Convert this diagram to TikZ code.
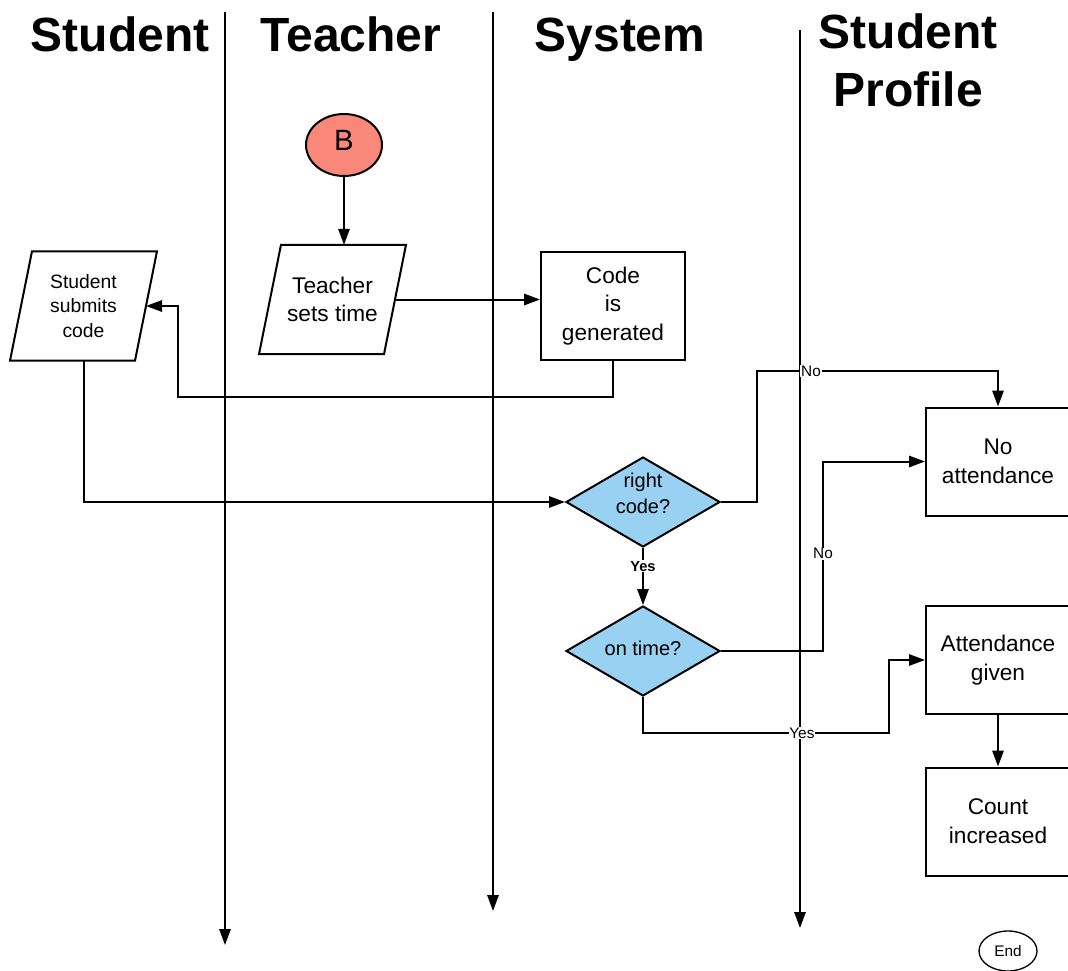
\documentclass[tikz,border=0pt]{standalone}
\usepackage{fontspec}
\setmainfont{Liberation Sans}
\usetikzlibrary{shapes.geometric,arrows.meta,calc}
\definecolor{decblue}{RGB}{153,209,243}
\definecolor{startred}{RGB}{249,135,122}
\begin{document}
\begin{tikzpicture}[x=0.75pt,y=-0.75pt,
  line width=1.5pt,
  arr/.style={-{Triangle[length=12pt,width=8.5pt]}},
  title/.style={font=\fontsize{36}{43}\selectfont\bfseries, align=center, inner sep=0pt},
  box/.style={draw, minimum width=108pt, minimum height=81pt, align=center,
    font=\fontsize{17}{21.5}\selectfont, inner sep=2pt},
  % parallelogram body: the outline is drawn from the node's corners below
  parabody/.style={minimum width=108.75pt, minimum height=80.5pt, align=center, inner sep=1pt},
  decision/.style={draw, diamond, fill=decblue, minimum width=115.5pt, minimum height=67.5pt,
    aspect=1.71, inner sep=0pt},
  dtext/.style={align=center, font=\fontsize{15}{19.5}\selectfont, inner sep=0pt},
  lbl/.style={fill=white, inner sep=0.6pt, font=\fontsize{11.5}{13}\selectfont},
  ]
\useasboundingbox (0,0) rectangle (1068,971);

% lane titles
\node[title, anchor=base] (tStudent) at (120,51) {Student};
\node[title, anchor=base] (tTeacher) at (351,51) {Teacher};
\node[title, anchor=base] (tSystem) at (620,51) {System};
\node[title, anchor=north] (tProfile) at (908,13) {Student\\Profile};

% lane separators
\coordinate (l1a) at (225,12);  \coordinate (l1b) at (225,945);
\coordinate (l2a) at (493,12);  \coordinate (l2b) at (493,911);
\coordinate (l3a) at (800,30);  \coordinate (l3b) at (800,928);
\draw[arr] (l1a) -- (l1b);
\draw[arr] (l2a) -- (l2b);
\draw[arr] (l3a) -- (l3b);

% nodes
\node[draw, ellipse, fill=startred, minimum width=57pt, minimum height=46.5pt,
  inner sep=0pt, font=\fontsize{22}{24}\selectfont] (B) at (344,145) {\raisebox{7pt}{B}};
\node[parabody, font=\fontsize{17}{21.5}\selectfont] (ts) at (332.5,299.5) {Teacher\\sets time};
\node[parabody, font=\fontsize{14.5}{18.5}\selectfont] (ss) at (83.5,306) {Student\\submits\\code};
\foreach \n in {ts,ss}
  \draw ($(\n.north west)+(22,0)$) -- (\n.north east) -- ($(\n.south east)+(-22,0)$)
    -- (\n.south west) -- cycle;
\coordinate (tsR) at ($(ts.east)+(-11,0)$);
\coordinate (ssR) at ($(ss.east)+(-11,0)$);
\node[box] (cg) at (613,306) {Code\\is\\generated};
\node[decision, label={[dtext, yshift=6.75pt]center:right\\code?}] (rc) at (643,502) {};
\node[decision, label={[dtext, yshift=2.25pt]center:on time?}] (ot) at (643,651) {};
\node[box] (na) at (998,461.5) {No\\attendance};
\node[box] (ag) at (998,660) {Attendance\\given};
\node[box] (ci) at (998,821.5) {Count\\increased};
\node[draw, ellipse, line width=1pt, minimum width=43.5pt, minimum height=30pt,
  inner sep=0pt, font=\fontsize{11.5}{12}\selectfont] (end) at (1008,951) {End};

% connectors
\draw[arr] (B.south) -- (B.south |- ts.north);
\draw[arr] (tsR) -- (tsR -| cg.west);
\draw[arr] (cg.south) |- (178,397) |- (ssR);
\draw[arr] (ss.south) |- (rc.west);
\draw[arr] (rc.east) -- (757,502) -- (757,371) -- node[lbl, pos=0.224] {No} (998,371) -- (na.north);
\draw[arr] (rc.south) -- node[lbl, pos=0.32, font=\fontsize{11}{12}\selectfont\bfseries] {Yes} (ot.north);
\draw[arr] (ot.east) -- (823,651) -- node[lbl, pos=0.513] {No} (823,461.5) -- (na.west);
\draw[arr] (ot.south) -- (643,733) -- node[lbl, pos=0.646] {Yes} (889,733) -- (889,660) -- (ag.west);
\draw[arr] (ag.south) -- (ci.north);
\end{tikzpicture}
\end{document}
